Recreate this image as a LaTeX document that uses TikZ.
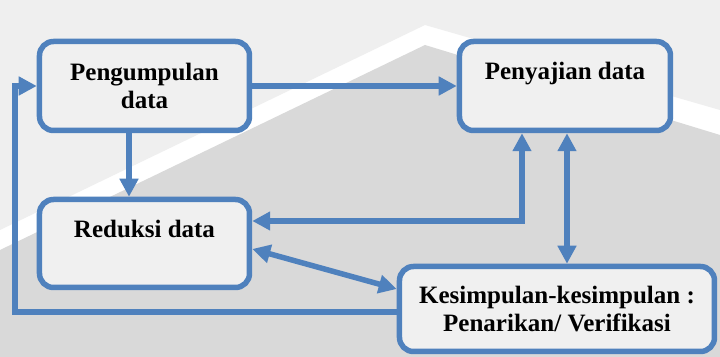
\documentclass[tikz,border=0pt]{standalone}
\usepackage{fontspec}
\setmainfont{Liberation Serif}
\usepackage{xcolor}
\usetikzlibrary{arrows.meta}
\definecolor{garisbiru}{HTML}{4F81BD}
\definecolor{latar}{HTML}{D9D9D9}
\definecolor{latarmuda}{HTML}{EFEFEF}
\definecolor{isikotak}{HTML}{F0F0F0}

\begin{document}
\begin{tikzpicture}
[x=0.5pt, y=-0.5pt]
\tikzset{
	kotak/.style = {rectangle, rounded corners=7pt, draw=garisbiru, line width=2.75pt, fill=isikotak, align=center, font=\fontsize{12.5}{14}\selectfont\bfseries},
	teksatas/.style = {text height=9pt, text depth=15pt},
	panah/.style = {draw=garisbiru, line width=2.75pt, -{Triangle[length=9pt, width=9pt]}},
	panahdua/.style = {draw=garisbiru, line width=2.75pt, {Triangle[length=9pt, width=9pt]}-{Triangle[length=9pt, width=9pt]}}
}

\useasboundingbox (0,0) rectangle (720,357);
\fill[white] (0,0) rectangle (720,357);
\fill[latarmuda] (0,0) -- (0,230) -- (425,25) -- (720,110) -- (720,0) -- cycle;
\fill[latar] (0,357) -- (0,250) -- (425,45) -- (720,135) -- (720,357) -- cycle;

\node(kumpul) [kotak, minimum width=105pt, minimum height=44.5pt] at (144.5,86) {Pengumpulan\\data};
\node(sajian) [kotak, teksatas, minimum width=105.5pt, minimum height=44.5pt] at (565,86) {Penyajian data};
\node(reduksi) [kotak, teksatas, minimum width=105pt, minimum height=44pt] at (144.5,243.5) {Reduksi data};
\node(simpulan) [kotak, minimum width=157.5pt, minimum height=42.5pt] at (557,309) {Kesimpulan-kesimpulan :\\Penarikan/ Verifikasi};
\coordinate (kiri) at (15,200);

\draw[panah] (kumpul) -- (sajian);
\draw[panah] ([xshift=-7.75pt]kumpul.south) -- ([xshift=-7.75pt]reduksi.north);
\draw[panahdua] ([xshift=-21.5pt]sajian.south) |- ([yshift=11.25pt]reduksi.east);
\draw[panahdua] ([xshift=1pt]sajian.south) -- ([xshift=1pt]sajian.south |- simpulan.north);
\draw[panahdua] ([yshift=-2.75pt]reduksi.east) -- ([yshift=10pt]simpulan.west);
\draw[panah] ([yshift=-1.5pt]simpulan.west) -| (kiri) |- (kumpul.west);
\end{tikzpicture}
\end{document}
